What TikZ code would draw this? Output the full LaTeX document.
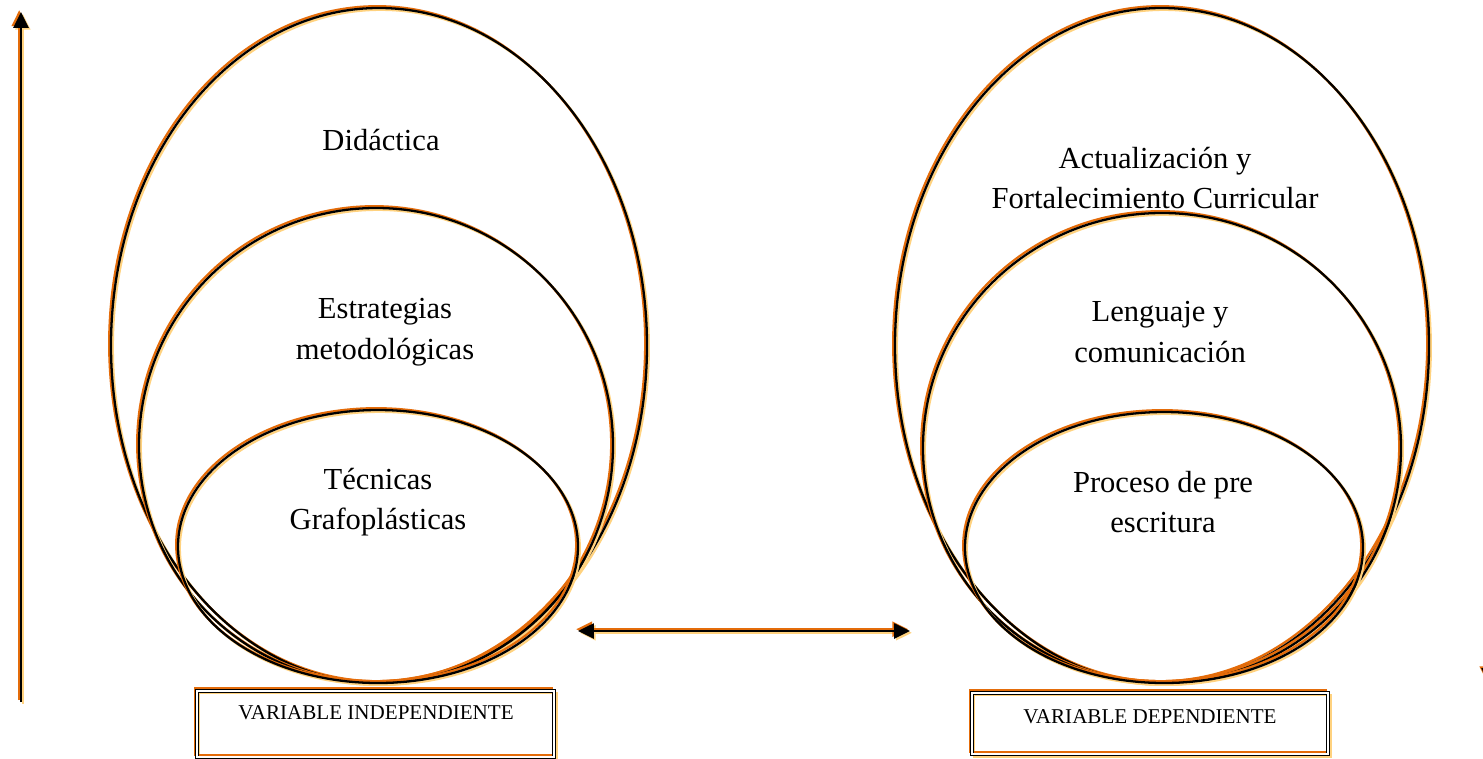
\documentclass[tikz,border=0pt]{standalone}
\usepackage{fontspec}
\setmainfont{Liberation Serif}
\usetikzlibrary{arrows.meta,positioning}
\definecolor{shadeO}{HTML}{E46C0A}
\definecolor{shadeY}{HTML}{FFD27F}

\begin{document}
\begin{tikzpicture}[x=0.02cm,y=-0.02cm,>={Triangle[length=9pt,width=8.5pt]},
    ink/.style={draw=black,line width=1.3pt},
    glowO/.style={draw=shadeO,line width=1.3pt,transform canvas={shift={(-1.8,-1.8)}}},
    glowY/.style={draw=shadeY,line width=1.3pt,transform canvas={shift={(1.8,1.8)}}},
    ring/.style={ink,preaction={glowY},preaction={glowO}},
    lbl/.style={font=\fontsize{17.4}{23}\selectfont,align=center,inner sep=0pt},
    varbox/.style={draw=none,minimum width=7.14cm,minimum height=1.32cm,inner sep=0pt},
    boxline/.style={draw=black,double,double distance=1.1pt,line width=0.5pt},
    boxO/.style={draw=shadeO,line width=0.9pt,transform canvas={shift={(-2,-2.5)}}},
    boxY/.style={draw=shadeY,line width=0.9pt,transform canvas={shift={(2.5,2.5)}}},
    vartext/.style={font=\fontsize{12}{14}\selectfont,inner sep=0pt}]

\useasboundingbox (0,0) rectangle (1483,758);

% centres of the rings
\coordinate (ciA) at (379,345.5);
\coordinate (ciB) at (376,445.5);
\coordinate (ciC) at (378,546.5);
\coordinate (cdA) at (1162,345.5);
\coordinate (cdB) at (1162,448);
\coordinate (cdC) at (1164,547.5);

% independent variable
\draw[ring] (ciA) ellipse [x radius=268,y radius=337.5];
\draw[ring] (ciB) ellipse [x radius=237,y radius=237.5];
\draw[ring] (ciC) ellipse [x radius=200,y radius=136.5];

% dependent variable
\draw[ring] (cdA) ellipse [x radius=267,y radius=337.5];
\draw[ring] (cdB) ellipse [x radius=239,y radius=235];
\draw[ring] (cdC) ellipse [x radius=199,y radius=135.5];

\node[lbl] (didac)  at (381,140) {Didáctica};
\node[lbl] (estrat) at (385,332) {Estrategias\\metodológicas};
\node[lbl] (tecn)   at (378,502) {Técnicas\\Grafoplásticas};
\node[lbl] (actual) at (1155,178) {Actualización y\\Fortalecimiento Curricular};
\node[lbl] (lengu)  at (1160,332) {Lenguaje y\\comunicación};
\node[lbl] (proc)   at (1163,502) {Proceso de pre\\escritura};

% boxes
\node[varbox] (boxI) at (375.5,724) {};
\node[varbox,minimum width=7.12cm,minimum height=1.22cm] (boxD) at (1150,723.5) {};
\draw[boxY] (boxI.north west) rectangle (boxI.south east);
\draw[boxO] (boxI.north west) rectangle (boxI.south east);
\draw[boxline] (boxI.north west) rectangle (boxI.south east);
\draw[boxY] (boxD.north west) rectangle (boxD.south east);
\draw[boxO] (boxD.north west) rectangle (boxD.south east);
\draw[boxline] (boxD.north west) rectangle (boxD.south east);
\node[vartext] (txtI) at (376,713) {VARIABLE INDEPENDIENTE};
\node[vartext] (txtD) at (1150,717) {VARIABLE DEPENDIENTE};

% arrows
\coordinate (linkL) at (578,631);
\coordinate (linkR) at (910,631);
\coordinate (axisB) at (21,702);
\coordinate (axisT) at (21,12);
\coordinate (edgeT) at (1489,600);
\coordinate (edgeB) at (1489,684);

\draw[glowY,<->] (linkL) -- (linkR);
\draw[glowO,<->] (linkL) -- (linkR);
\draw[ink,<->] (linkL) -- (linkR);
\draw[glowY,->] (axisB) -- (axisT);
\draw[glowO,->] (axisB) -- (axisT);
\draw[ink,->] (axisB) -- (axisT);
\draw[glowO,->] (edgeT) -- (edgeB);
\draw[ink,->] (edgeT) -- (edgeB);
\end{tikzpicture}
\end{document}
